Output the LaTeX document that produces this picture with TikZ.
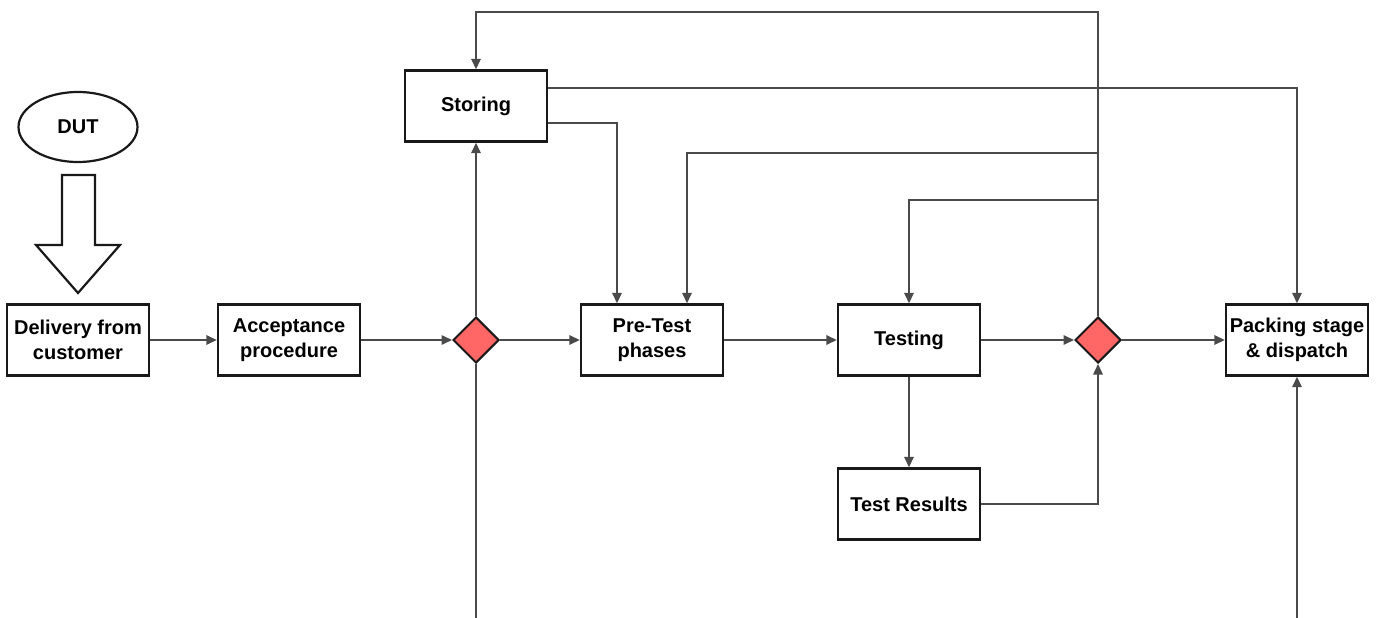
\documentclass[tikz,border=0pt]{standalone}
\usepackage{fontspec}
\setmainfont{Liberation Sans}
\usetikzlibrary{shapes.geometric,arrows.meta,calc}
\definecolor{decred}{HTML}{FF6666}
\definecolor{linegray}{HTML}{4A4A4A}
\tikzset{
  procbox/.style={draw=black!90, line width=2.4pt, rectangle, minimum width=142pt, minimum height=71pt, inner sep=0pt, align=center, font=\fontsize{20}{25}\selectfont\bfseries},
  decbox/.style={draw=black!90, line width=2pt, diamond, fill=decred, minimum width=46pt, minimum height=46pt, inner sep=0pt},
  conn/.style={draw=linegray, line width=1.6pt},
  arr/.style={conn, -{Triangle[length=10.5pt,width=9.5pt]}}
}
\begin{document}
\begin{tikzpicture}[x=1pt,y=-1pt]
\useasboundingbox (0,0) rectangle (1379,618);
% nodes
\node[draw=black!90, line width=2.2pt, ellipse, minimum width=119pt, minimum height=70pt, inner sep=0pt, font=\fontsize{20}{25}\selectfont\bfseries] (dut) at (78,127) {DUT};
\draw[line width=2.2pt, draw=black!90, line join=miter] (62,175) -- (95,175) -- (95,245) -- (120,245) -- (78,293) -- (36,245) -- (62,245) -- cycle;
\node[procbox] (delivery) at (78,340) {Delivery from\\customer};
\node[procbox] (accept) at (289,340) {Acceptance\\procedure};
\node[decbox] (d1) at (476,340) {};
\node[procbox] (storing) at (476,106) {Storing};
\node[procbox] (pretest) at (652,340) {Pre-Test\\phases};
\node[procbox] (testing) at (909,340) {Testing};
\node[procbox] (results) at (909,504) {Test Results};
\node[decbox] (d2) at (1098,340) {};
\node[procbox] (packing) at (1297,340) {Packing stage\\\& dispatch};
% coordinates
\coordinate (top) at (1098,12);
\coordinate (br1) at (1098,153);
\coordinate (br2) at (1098,200);
\coordinate (bot1) at (476,618);
\coordinate (bot2) at (1297,618);
% connectors
\draw[arr] (delivery) -- (accept);
\draw[arr] (accept) -- (d1);
\draw[arr] (d1) -- (pretest);
\draw[arr] (d1) -- (storing);
\draw[conn] (d1) -- (bot1);
\draw[arr] (pretest) -- (testing);
\draw[arr] (testing) -- (d2);
\draw[arr] (d2) -- (packing);
\draw[arr] (testing) -- (results);
\draw[arr] (results.east) -| (d2.south);
\draw[arr] (bot2) -- (packing.south);
\draw[arr] (d2.north) -- (top) -| (storing.north);
\draw[arr] (br1) -| ($(pretest.north)+(35,0)$);
\draw[arr] (br2) -| (testing.north);
\draw[arr] ($(storing.east)+(0,17)$) -| ($(pretest.north)+(-35,0)$);
\draw[arr] ($(storing.east)+(0,-18)$) -| (packing.north);
\end{tikzpicture}
\end{document}
